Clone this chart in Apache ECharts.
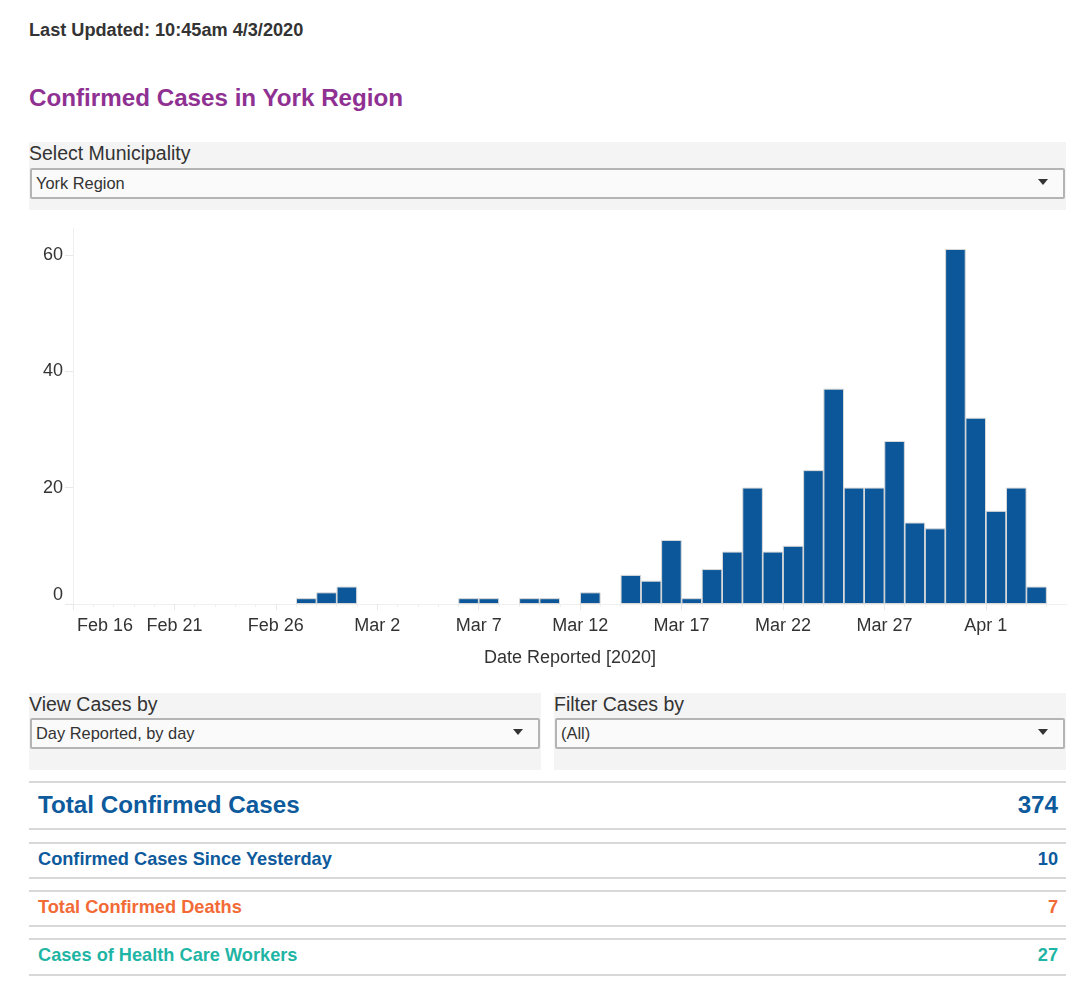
<!DOCTYPE html>
<html>
<head>
<meta charset="utf-8">
<script src="https://cdn.jsdelivr.net/npm/echarts@6/dist/echarts.min.js"></script>
<style>
html,body{margin:0;padding:0;background:#fff;width:1080px;height:1001px;overflow:hidden;font-family:"Liberation Sans",Arial,sans-serif;color:#333}
.abs{position:absolute;white-space:nowrap}
.panel{position:absolute;background:#f4f4f4}
.sel{position:absolute;box-sizing:border-box;height:31px;background:#fafafa;border:2px solid #b4b4b4;border-radius:2px;font-size:16.4px;line-height:27px;padding-left:4px;color:#333}
.sel:after{content:"";position:absolute;right:15px;top:9px;border-left:5.5px solid transparent;border-right:5.5px solid transparent;border-top:6px solid #333}
.lbl{font-size:19.5px;line-height:22px;color:#333}
.rule{position:absolute;left:29px;width:1037px;height:2px;background:#d8d8d8}
.row{position:absolute;left:38px;width:1020px;display:flex;justify-content:space-between;font-weight:bold;align-items:center}
#chart{position:absolute;left:0;top:215px;width:1080px;height:460px}
</style>
</head>
<body>
<div class="abs" style="left:29px;top:20px;font-size:18.15px;line-height:20px;font-weight:bold;color:#333">Last Updated: 10:45am 4/3/2020</div>
<div class="abs" style="left:29px;top:84px;font-size:24.2px;line-height:28px;font-weight:bold;color:#8f3192">Confirmed Cases in York Region</div>

<div class="panel" style="left:29px;top:142px;width:1037px;height:68px"></div>
<div class="abs lbl" style="left:29px;top:142px">Select Municipality</div>
<div class="sel" style="left:30px;top:168px;width:1035px">York Region</div>

<div id="chart"></div>

<div class="panel" style="left:29px;top:693px;width:512px;height:77px"></div>
<div class="abs lbl" style="left:29px;top:693px">View Cases by</div>
<div class="sel" style="left:30px;top:718px;width:510px">Day Reported, by day</div>
<div class="panel" style="left:554px;top:693px;width:512px;height:77px"></div>
<div class="abs lbl" style="left:554px;top:693px">Filter Cases by</div>
<div class="sel" style="left:555px;top:718px;width:510px">(All)</div>

<div class="rule" style="top:781px"></div><div class="rule" style="top:828px"></div>
<div class="rule" style="top:842px"></div><div class="rule" style="top:877px"></div>
<div class="rule" style="top:890px"></div><div class="rule" style="top:925px"></div>
<div class="rule" style="top:938px"></div><div class="rule" style="top:974px"></div>
<div class="row" style="top:782px;height:45px;font-size:24.2px;color:#0d5a9c"><span>Total Confirmed Cases</span><span>374</span></div>
<div class="row" style="top:843px;height:33px;font-size:18.2px;color:#0d5a9c"><span>Confirmed Cases Since Yesterday</span><span>10</span></div>
<div class="row" style="top:891px;height:33px;font-size:18.2px;color:#f26a36"><span>Total Confirmed Deaths</span><span>7</span></div>
<div class="row" style="top:939px;height:33px;font-size:18.2px;color:#1fb5a5"><span>Cases of Health Care Workers</span><span>27</span></div>

<script>
// One label per day, Feb 16 to Apr 3 2020
const days = [
  'Feb 16','Feb 17','Feb 18','Feb 19','Feb 20','Feb 21','Feb 22','Feb 23','Feb 24','Feb 25','Feb 26','Feb 27','Feb 28','Feb 29',
  'Mar 1','Mar 2','Mar 3','Mar 4','Mar 5','Mar 6','Mar 7','Mar 8','Mar 9','Mar 10','Mar 11','Mar 12','Mar 13','Mar 14','Mar 15','Mar 16',
  'Mar 17','Mar 18','Mar 19','Mar 20','Mar 21','Mar 22','Mar 23','Mar 24','Mar 25','Mar 26','Mar 27','Mar 28','Mar 29','Mar 30','Mar 31',
  'Apr 1','Apr 2','Apr 3'
];
const cases = [
  0,0,0,0,0,0,0,0,0,0,0,1,2,3,
  0,0,0,0,0,1,1,0,1,1,0,2,0,5,4,11,
  1,6,9,20,9,10,23,37,20,20,28,14,13,61,32,
  16,20,3
];
const yTicks = [0,20,40,60];
const xTickDays = ['Feb 16','Feb 21','Feb 26','Mar 2','Mar 7','Mar 12','Mar 17','Mar 22','Mar 27','Apr 1'];

const points = cases.map((v,i)=>[i+0.5, v>0?v:null]);
const chart = echarts.init(document.getElementById('chart'));
const font = '"Liberation Sans",Arial,sans-serif';
chart.setOption({
  animation:false,
  grid:{left:73,right:13,top:13,bottom:71,containLabel:false},
  xAxis:{
    type:'value',min:0,max:days.length+1,interval:5,
    name:'Date Reported [2020]',nameLocation:'middle',nameGap:45,
    nameTextStyle:{fontFamily:font,fontSize:18,color:'#333'},
    axisLine:{show:true,lineStyle:{color:'#efefef',width:1}},
    axisTick:{show:true,length:6,lineStyle:{color:'#e8e8e8'},customValues:xTickDays.map(d=>days.indexOf(d))},
    minorTick:{show:true,splitNumber:5,length:3,lineStyle:{color:'#eeeeee'}},
    splitLine:{show:false},minorSplitLine:{show:false},
    axisLabel:{
      fontFamily:font,fontSize:18,color:'#333',margin:13,
      customValues:xTickDays.map(d=>days.indexOf(d)),
      alignMinLabel:'left',
      formatter:v=>v===0?'{a|'+days[v]+'}':days[v],
      rich:{a:{fontFamily:font,fontSize:18,color:'#333',padding:[0,0,0,4]}}
    }
  },
  yAxis:{
    type:'value',min:0,max:64.6,
    axisLine:{show:true,lineStyle:{color:'#efefef',width:1}},
    axisTick:{show:true,length:8,lineStyle:{color:'#e8e8e8'},customValues:yTicks},
    splitLine:{show:false},
    axisLabel:{fontFamily:font,fontSize:18,color:'#333',margin:10,lineHeight:18,customValues:yTicks,verticalAlignMinLabel:'bottom'}
  },
  series:[{
    type:'bar',data:points,barWidth:20.6,
    itemStyle:{color:'#0b5799',borderColor:'#d9d9d9',borderWidth:1}
  }]
});
</script>
</body>
</html>
